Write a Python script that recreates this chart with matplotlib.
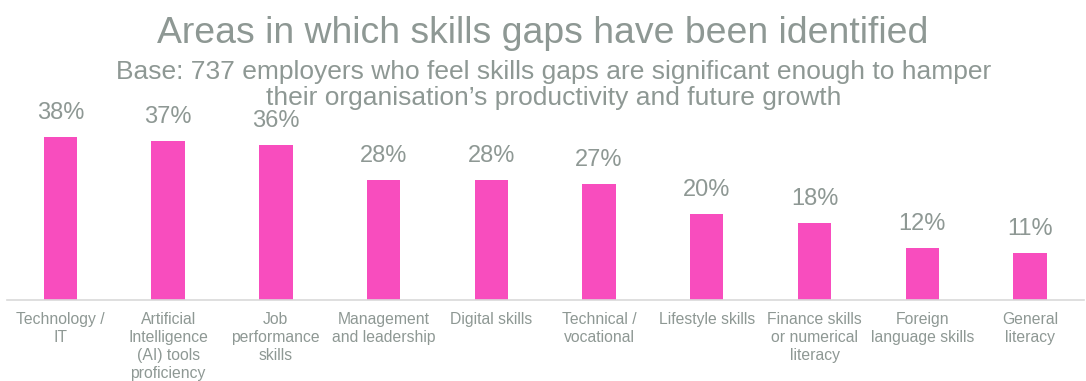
import matplotlib
matplotlib.use("Agg")
import matplotlib.pyplot as plt
import numpy as np

plt.rcParams["font.family"] = ["Liberation Sans", "DejaVu Sans"]

categories = [
    "Technology /\nIT",
    "Artificial\nIntelligence\n(AI) tools\nproficiency",
    "Job\nperformance\nskills",
    "Management\nand leadership",
    "Digital skills",
    "Technical /\nvocational",
    "Lifestyle skills",
    "Finance skills\nor numerical\nliteracy",
    "Foreign\nlanguage skills",
    "General\nliteracy",
]
shares = [38, 37, 36, 28, 28, 27, 20, 18, 12, 11]

PINK = "#F84DBE"
GREY = "#8E9894"

fig = plt.figure(figsize=(10.86, 3.81), dpi=100)
ax = fig.add_axes([0.006, 0.213, 0.992, 0.507])

x = np.arange(len(categories))
ax.bar(x, shares, width=0.31, color=PINK)
for xi, v in zip(x, shares):
    ax.text(xi, v + 5.6, f"{v}%", ha="center", va="center",
            fontsize=17, color=GREY)

ax.set_xlim(-0.5, len(categories) - 0.5)
ax.set_ylim(0, 45)
ax.set_yticks([])
ax.set_xticks(x)
ax.set_xticklabels(categories, fontsize=11.3, color=GREY, linespacing=1.25)
ax.tick_params(axis="x", length=0, pad=9)
for side in ("top", "right", "left"):
    ax.spines[side].set_visible(False)
ax.spines["bottom"].set_color("#D9D9D9")
ax.spines["bottom"].set_linewidth(1.2)

fig.text(0.5, 0.913, "Areas in which skills gaps have been identified",
         ha="center", va="center", fontsize=26.9, color=GREY)
fig.text(0.51, 0.776,
         "Base: 737 employers who feel skills gaps are significant enough to hamper\n"
         "their organisation\u2019s productivity and future growth",
         ha="center", va="center", fontsize=19, color=GREY, linespacing=1.12)

fig.savefig("out.png", dpi=100, facecolor="white")
